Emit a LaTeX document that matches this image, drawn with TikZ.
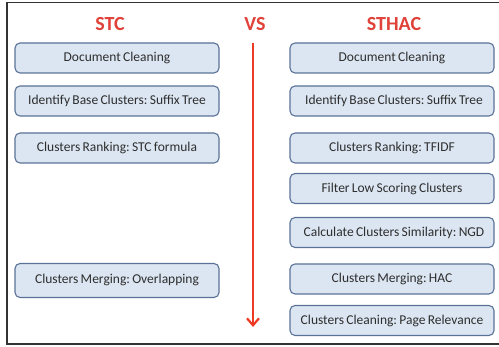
\documentclass[tikz,border=0pt]{standalone}
\usepackage{fontspec}
\setmainfont{Carlito}[WordSpace=0.75]
\usetikzlibrary{arrows.meta}
\definecolor{boxfill}{HTML}{DCE6F2}
\definecolor{boxline}{HTML}{5A7297}
\definecolor{titlered}{HTML}{E0423A}
\definecolor{arrowred}{HTML}{EE3A24}
\tikzset{
  stepbox/.style={draw=boxline, fill=boxfill, line width=1.1pt, rounded corners=5pt,
    minimum width=204pt, minimum height=30pt, inner sep=0pt, font=\fontsize{13.5}{15}\selectfont\frenchspacing, text=black!82},
  titletext/.style={font=\fontsize{20}{23}\selectfont\bfseries, text=titlered},
}
\begin{document}
\begin{tikzpicture}[x=1pt,y=-1pt]
\useasboundingbox (0,0) rectangle (499,347);
\fill[white] (0,0) rectangle (499,347);
\draw[black!80, line width=1.6pt] (505,2.5) -- (7,2.5) -- (7,344) -- (505,344);
\node[titletext] (stc) at (110,24) {STC};
\node[titletext] (vs) at (255,24) {VS};
\node[titletext] (sthac) at (394,24) {STHAC};
% left column
\node[stepbox] (l1) at (117,58) {Document Cleaning};
\node[stepbox] (l2) at (117,101) {Identify Base Clusters: Suffix Tree};
\node[stepbox] (l3) at (117,148) {Clusters Ranking: STC formula};
\node[stepbox, minimum height=34pt] (l4) at (117,280.5) {\raisebox{3pt}{Clusters Merging: Overlapping}};
% right column
\node[stepbox] (r1) at (392,58) {Document Cleaning};
\node[stepbox] (r2) at (392,101) {\hspace*{4pt}Identify Base Clusters: Suffix Tree};
\node[stepbox] (r3) at (392,148) {Clusters Ranking: TFIDF};
\node[stepbox] (r4) at (392,188.5) {Filter Low Scoring Clusters};
\node[stepbox] (r5) at (392,232.5) {\hspace*{4pt}Calculate Clusters Similarity: NGD};
\node[stepbox] (r6) at (392,279) {Clusters Merging: HAC};
\node[stepbox] (r7) at (392,320.5) {Clusters Cleaning: Page Relevance};
% arrow
\coordinate (atop) at (253,43);
\coordinate (abot) at (253,327);
\draw[arrowred, line width=2.2pt, -{Straight Barb[length=7pt,width=12pt,line width=2.2pt]}] (atop) -- (abot);
\end{tikzpicture}
\end{document}
